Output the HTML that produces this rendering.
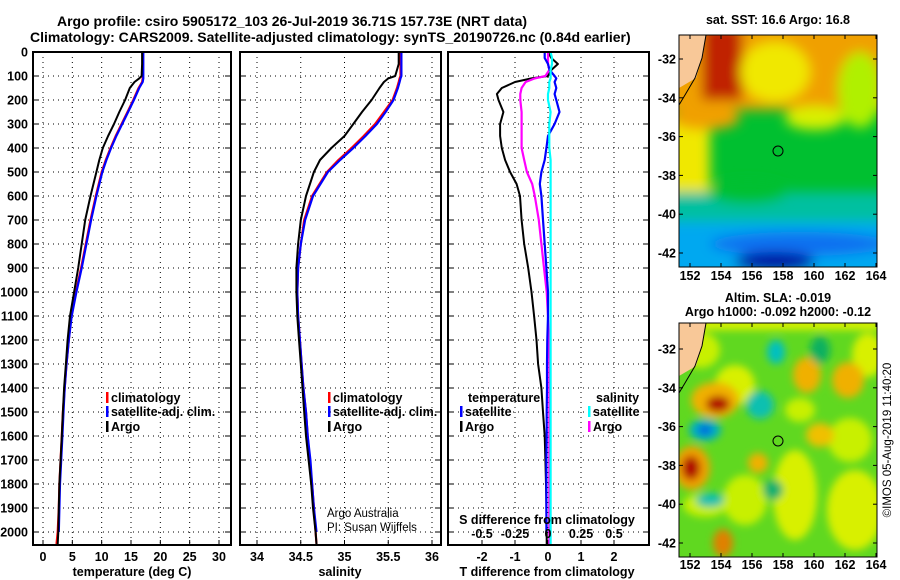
<!DOCTYPE html>
<html><head><meta charset="utf-8"><style>
html,body{margin:0;padding:0;background:#fff;}
svg{display:block;font-family:"Liberation Sans",Arial,sans-serif;}
text{font-weight:bold;font-size:12.5px;fill:#000;}
</style></head><body>
<svg id="fig" width="900" height="580" viewBox="0 0 900 580" xmlns="http://www.w3.org/2000/svg">
<defs>
<filter id="blur" filterUnits="userSpaceOnUse" x="640" y="0" width="280" height="300"><feGaussianBlur stdDeviation="6"/></filter>
<filter id="blur2" filterUnits="userSpaceOnUse" x="640" y="290" width="280" height="290"><feGaussianBlur stdDeviation="4"/></filter>
<clipPath id="clipTop"><rect x="679" y="35" width="198" height="232"/></clipPath>
<clipPath id="clipBot"><rect x="679" y="323" width="198" height="234"/></clipPath>
</defs>
<text x="57" y="26" style="font-size:14px">Argo profile: csiro 5905172_103 26-Jul-2019 36.71S 157.73E (NRT data)</text>
<text x="30" y="42" style="font-size:14px">Climatology: CARS2009. Satellite-adjusted climatology: synTS_20190726.nc (0.84d earlier)</text>
<g id="panels"></g>

<!-- top SST map -->
<g clip-path="url(#clipTop)">
<rect x="679" y="35" width="198" height="232" fill="#00c030"/>
<g filter="url(#blur)">
<rect x="660" y="20" width="240" height="90" fill="#f0a000"/>
<rect x="702" y="25" width="40" height="75" fill="#c02000"/>
<ellipse cx="775" cy="72" rx="35" ry="30" fill="#f0e800"/>
<ellipse cx="860" cy="90" rx="22" ry="38" fill="#b0f000"/>
<ellipse cx="815" cy="118" rx="30" ry="12" fill="#d8f000"/>
<rect x="660" y="115" width="50" height="90" fill="#f0e800"/>
<ellipse cx="705" cy="118" rx="35" ry="12" fill="#f0a000"/>
<rect x="660" y="192" width="240" height="35" fill="#00c0a0"/>
<ellipse cx="748" cy="192" rx="40" ry="12" fill="#00c030"/>
<rect x="660" y="222" width="240" height="60" fill="#00a8f0"/>
<ellipse cx="800" cy="244" rx="90" ry="12" fill="#1070f0"/>
<ellipse cx="775" cy="262" rx="40" ry="10" fill="#0010a0"/>
</g>
<polygon points="679,35 706,35 703,55 696,78 679,88" fill="#f8c898"/>
<polyline points="706,35 702,58 695,78 685,95 679,105" fill="none" stroke="#000" stroke-width="1"/>
<circle cx="778" cy="151" r="5" fill="none" stroke="#000" stroke-width="1"/>
</g>
<rect x="679" y="35" width="198" height="232" fill="none" stroke="#000" stroke-width="1"/>
<text x="778" y="24" text-anchor="middle">sat. SST: 16.6 Argo: 16.8</text>

<!-- bottom SLA map -->
<g clip-path="url(#clipBot)">
<rect x="679" y="323" width="198" height="234" fill="#60d820"/>
<g filter="url(#blur2)">
<rect x="700" y="318" width="180" height="12" fill="#d8f000"/>
<ellipse cx="700" cy="350" rx="20" ry="18" fill="#c8f000"/>
<ellipse cx="868" cy="355" rx="16" ry="22" fill="#d8f000"/>
<ellipse cx="795" cy="495" rx="22" ry="45" fill="#d8f000"/>
<ellipse cx="855" cy="510" rx="28" ry="40" fill="#d8f000"/>
<ellipse cx="850" cy="440" rx="22" ry="22" fill="#c8f000"/>
<ellipse cx="745" cy="500" rx="22" ry="25" fill="#c8f000"/>
<ellipse cx="705" cy="505" rx="22" ry="12" fill="#c8f000"/>
<ellipse cx="735" cy="385" rx="20" ry="20" fill="#d8f000"/>
<ellipse cx="800" cy="410" rx="15" ry="12" fill="#c8f000"/>
<ellipse cx="715" cy="400" rx="24" ry="18" fill="#f0b000"/>
<ellipse cx="718" cy="404" rx="12" ry="8" fill="#b00000"/>
<ellipse cx="692" cy="468" rx="18" ry="22" fill="#f0a000"/>
<ellipse cx="691" cy="468" rx="9" ry="12" fill="#b00000"/>
<ellipse cx="807" cy="375" rx="14" ry="18" fill="#f0b000"/>
<ellipse cx="848" cy="380" rx="16" ry="18" fill="#f0b000"/>
<ellipse cx="820" cy="435" rx="14" ry="12" fill="#f0c000"/>
<ellipse cx="758" cy="463" rx="10" ry="10" fill="#f0b000"/>
<ellipse cx="723" cy="543" rx="10" ry="14" fill="#e08000"/>
<ellipse cx="705" cy="430" rx="16" ry="11" fill="#00b0c0"/>
<ellipse cx="705" cy="430" rx="7" ry="5" fill="#0060e0"/>
<ellipse cx="776" cy="352" rx="9" ry="12" fill="#00c0c0"/>
<ellipse cx="760" cy="405" rx="14" ry="14" fill="#10c0b0"/>
<ellipse cx="710" cy="500" rx="14" ry="7" fill="#10c0b0"/>
<ellipse cx="773" cy="490" rx="10" ry="10" fill="#10b070"/>
<ellipse cx="820" cy="350" rx="10" ry="14" fill="#10b060"/>
</g>
<polygon points="679,323 706,323 703,343 696,366 679,376" fill="#f8c898"/>
<polyline points="706,323 702,346 695,366 685,383 679,393" fill="none" stroke="#000" stroke-width="1"/>
<circle cx="778" cy="441" r="5" fill="none" stroke="#000" stroke-width="1"/>
</g>
<rect x="679" y="323" width="198" height="234" fill="none" stroke="#000" stroke-width="1"/>
<text x="778" y="302" text-anchor="middle">Altim. SLA: -0.019</text>
<text x="778" y="316" text-anchor="middle">Argo h1000: -0.092 h2000: -0.12</text>
<text transform="translate(891,440) rotate(-90)" text-anchor="middle" style="font-weight:normal;font-size:11.5px">©IMOS 05-Aug-2019 11:40:20</text>
<g id="maplabels"></g>
</svg>
<script>
// ---------- data ----------
const depths = [0,50,100,110,125,150,200,250,300,350,400,450,500,600,700,800,900,1000,1100,1200,1300,1400,1500,1600,1700,1800,1900,2000,2050];
const tempArgo = [16.9,16.9,16.8,16.4,15.6,14.8,14.0,13.0,12.1,11.1,10.2,9.6,9.1,8.1,7.2,6.6,6.0,5.3,4.6,4.2,3.9,3.6,3.4,3.2,3.0,2.8,2.7,2.6,2.5];
const tempClim = [17.0,17.0,17.0,17.0,16.9,16.3,15.4,14.4,13.4,12.4,11.5,10.7,10.0,9.0,8.1,7.3,6.5,5.6,4.8,4.4,4.0,3.7,3.4,3.2,3.0,2.8,2.7,2.5,2.3];
const depthsSat = [0,50,100,110,125,150,200,250,300,350,400,450,500,600,700,800,900,1000,1100,1200,1300,1400,1500,1600,1700,1800,1900,2000];
const tempSat = [17.1,17.1,17.1,17.1,17.0,16.4,15.5,14.5,13.5,12.5,11.6,10.8,10.1,9.1,8.2,7.4,6.6,5.7,4.9,4.4,4.0,3.7,3.5,3.3,3.1,2.9,2.8,2.7];
const salArgo = [35.62,35.62,35.58,35.50,35.45,35.40,35.31,35.20,35.10,35.00,34.85,34.72,34.65,34.56,34.50,34.47,34.45,34.45,34.46,34.48,34.50,34.52,34.54,34.56,34.59,34.62,34.64,34.67,34.68];
const salClim = [35.64,35.64,35.64,35.63,35.62,35.60,35.55,35.45,35.35,35.22,35.08,34.93,34.80,34.63,34.54,34.50,34.47,34.46,34.47,34.49,34.51,34.53,34.56,34.58,34.60,34.63,34.65,34.67,34.68];
const salSat = [35.65,35.65,35.65,35.64,35.63,35.61,35.56,35.47,35.37,35.24,35.10,34.95,34.81,34.64,34.55,34.50,34.47,34.46,34.47,34.49,34.51,34.53,34.56,34.58,34.61,34.63,34.65,34.68];
const diffDepths = [0,25,50,75,100,110,125,150,175,200,250,300,350,400,450,500,550,600,700,800,900,1000,1100,1200,1300,1400,1500,1600,1700,1800,1900,2000,2050];
const tDiffArgo = [0.0,0.1,0.3,0.1,0.0,-0.5,-1.0,-1.4,-1.55,-1.5,-1.35,-1.45,-1.45,-1.4,-1.3,-1.15,-0.95,-0.85,-0.8,-0.72,-0.6,-0.5,-0.42,-0.35,-0.3,-0.2,-0.15,-0.1,-0.08,-0.06,-0.05,-0.04,-0.04];
const tDiffSat = [-0.1,-0.1,0.0,0.05,0.2,0.25,0.2,0.25,0.2,0.25,0.35,0.2,0.0,-0.05,-0.1,-0.2,-0.25,-0.2,-0.15,-0.1,-0.05,0.0,0.0,-0.02,-0.03,-0.03,-0.04,-0.04,-0.05,-0.05,-0.05,-0.05,-0.05];
const sDiffArgo = [0.0,0.0,0.0,0.01,-0.02,-0.1,-0.17,-0.2,-0.21,-0.21,-0.2,-0.2,-0.2,-0.2,-0.18,-0.16,-0.12,-0.1,-0.07,-0.05,-0.03,-0.01,0.0,0.005,0.01,0.01,0.01,0.01,0.01,0.01,0.01,0.01,0.01];
const sDiffSat = [0.02,0.03,0.03,0.02,0.02,0.02,0.01,0.01,0.0,0.0,0.02,0.01,0.01,0.01,0.02,0.02,0.02,0.02,0.02,0.02,0.02,0.02,0.02,0.02,0.02,0.02,0.02,0.02,0.02,0.02,0.02,0.02,0.02];
const depthTicks = [0,100,200,300,400,500,600,700,800,900,1000,1100,1200,1300,1400,1500,1600,1700,1800,1900,2000];
const tempTicks = [0,5,10,15,20,25,30];
const salTicks = [34,34.5,35,35.5,36];
const tDiffTicks = [-2,-1,0,1,2];
const sDiffTicks = [-0.5,-0.25,0,0.25,0.5];
const sDiffTickLabels = ['-0.5','-0.25','0','0.25','0.5'];
const lonTicks = [152,154,156,158,160,162,164];
const latTicks = [-32,-34,-36,-38,-40,-42];

// ---------- helpers ----------
const NS='http://www.w3.org/2000/svg';
const root=document.getElementById('panels');
function mk(tag,attrs,parent){const e=document.createElementNS(NS,tag);for(const k in attrs)e.setAttribute(k,attrs[k]);(parent||root).appendChild(e);return e;}
const Y0=52, YB=545;
const yScale=d=>Y0+d*0.24;
function lin(v0,p0,v1,p1){return v=>p0+(v-v0)*(p1-p0)/(v1-v0);}

function panel(name,x0,x1,xs,gridVals){
  const g=mk('g',{});
  
  
  depthTicks.forEach(d=>{const y=yScale(d);
    const l=mk('line',{x1:x0,x2:x1,y1:y,y2:y,stroke:'#000','stroke-width':1,'stroke-dasharray':'1,4'},g);
    
    
    mk('line',{x1:x0,x2:x0+6,y1:y,y2:y,stroke:'#000','stroke-width':1},g);
    mk('line',{x1:x1-6,x2:x1,y1:y,y2:y,stroke:'#000','stroke-width':1},g);
  });
  gridVals.forEach(v=>{const x=xs(v);
    const l=mk('line',{x1:x,x2:x,y1:Y0,y2:YB,stroke:'#000','stroke-width':1,'stroke-dasharray':'1,4'},g);
    
    
    mk('line',{x1:x,x2:x,y1:YB-5,y2:YB,stroke:'#000','stroke-width':1},g);
  });
  return g;
}
function frame(name,x0,x1){const r=mk('rect',{x:x0,y:Y0,width:x1-x0,height:YB-Y0,fill:'none',stroke:'#000','stroke-width':2});
  
  }
function series(name,xs,vals,ds,color,w){
  const pts=vals.map((v,i)=>xs(v).toFixed(1)+','+yScale(ds[i]).toFixed(1)).join(' ');
  const p=mk('polyline',{points:pts,fill:'none',stroke:color,'stroke-width':w||2,'stroke-linejoin':'round'});
  
  
}
function txt(name,x,y,s,anchor,extra){const t=mk('text',Object.assign({x:x,y:y,'text-anchor':anchor||'start'},extra||{}));t.textContent=s;
  
  return t;}
function legendEntry(name,x,y,color,label){
  const r=mk('rect',{x:x,y:y-10,width:2.5,height:11,fill:color});
  
  
  txt(name,x+5,y,label);
}

// ---------- panel 1: temperature ----------
const xT=lin(0,43,30,219);
panel('temperature-panel',33,231,xT,tempTicks);
series('temp-climatology-line',xT,tempClim,depths,'#f00',2.2);
series('temp-satellite-line',xT,tempSat,depthsSat,'#00f',2.2);
series('temp-argo-line',xT,tempArgo,depths,'#000',2);
frame('temperature-frame',33,231);
depthTicks.forEach(d=>txt('depth-tick-label',28,yScale(d)+4.5,String(d),'end'));
tempTicks.forEach(v=>txt('temp-tick-label',xT(v),561,String(v),'middle'));
txt('temperature-axis-title',132,576,'temperature (deg C)','middle');
legendEntry('legend-climatology',106,402,'#f00','climatology');
legendEntry('legend-satellite-adj',106,416,'#00f','satellite-adj. clim.');
legendEntry('legend-argo',106,431,'#000','Argo');

// ---------- panel 2: salinity ----------
const xS=lin(34,257,36,432);
panel('salinity-panel',240,441,xS,salTicks);
series('sal-climatology-line',xS,salClim,depths,'#f00',2.2);
series('sal-satellite-line',xS,salSat,depthsSat,'#00f',2.2);
series('sal-argo-line',xS,salArgo,depths,'#000',2);
frame('salinity-frame',240,441);
salTicks.forEach(v=>txt('sal-tick-label',xS(v),561,String(v),'middle'));
txt('salinity-axis-title',340,576,'salinity','middle');
legendEntry('legend-sal-climatology',328,402,'#f00','climatology');
legendEntry('legend-sal-satellite-adj',328,416,'#00f','satellite-adj. clim.');
legendEntry('legend-sal-argo',328,431,'#000','Argo');
txt('credit-argo-australia',327,517,'Argo Australia','start',{style:'font-weight:normal;font-size:11.5px'});
txt('credit-pi',327,531,'PI: Susan Wijffels','start',{style:'font-weight:normal;font-size:11.5px'});

// ---------- panel 3: differences ----------
const xD=lin(-2,482,2,614);
const xSD=lin(-0.5,482,0.5,614);
panel('difference-panel',448,649,xD,tDiffTicks);
series('tdiff-argo-line',xD,tDiffArgo,diffDepths,'#000',2);
series('sdiff-argo-line',xSD,sDiffArgo,diffDepths,'#f0f',2.2);
series('tdiff-satellite-line',xD,tDiffSat.slice(0,32),diffDepths.slice(0,32),'#00f',2.2);
series('sdiff-satellite-line',xSD,sDiffSat,diffDepths,'#0ff',2.2);
frame('difference-frame',448,649);
tDiffTicks.forEach(v=>txt('tdiff-tick-label',xD(v),561,String(v),'middle'));
sDiffTicks.forEach((v,i)=>txt('sdiff-tick-label',xSD(v),538,sDiffTickLabels[i],'middle'));
txt('sdiff-axis-title',547,524,'S difference from climatology','middle');
txt('tdiff-axis-title',547,576,'T difference from climatology','middle');
txt('legend-temperature-heading',468,402,'temperature');
legendEntry('legend-tdiff-satellite',460,416,'#00f','satellite');
legendEntry('legend-tdiff-argo',460,431,'#000','Argo');
txt('legend-salinity-heading',596,402,'salinity');
legendEntry('legend-sdiff-satellite',588,416,'#0ff','satellite');
legendEntry('legend-sdiff-argo',588,431,'#f0f','Argo');

// ---------- map axes ----------
const ml=document.getElementById('maplabels');
const xLon=lin(152,690,164,876);
[[59,253,35,267,280],[349,543,323,557,569]].forEach(([la32,la42,top,bot,lonY],mi)=>{
  const yLat=lin(-32,la32,-42,la42);
  lonTicks.forEach(v=>{const x=xLon(v);
    mk('line',{x1:x,x2:x,y1:top,y2:top+4,stroke:'#000'},ml);
    mk('line',{x1:x,x2:x,y1:bot-4,y2:bot,stroke:'#000'},ml);
    const t=mk('text',{x:x,y:lonY,'text-anchor':'middle'},ml);t.textContent=String(v);
    
    
  });
  latTicks.forEach(v=>{const y=yLat(v);
    mk('line',{x1:679,x2:683,y1:y,y2:y,stroke:'#000'},ml);
    mk('line',{x1:873,x2:877,y1:y,y2:y,stroke:'#000'},ml);
    const t=mk('text',{x:676,y:y+4.5,'text-anchor':'end'},ml);t.textContent=String(v);
    
    
  });
});
</script>
</body></html>
